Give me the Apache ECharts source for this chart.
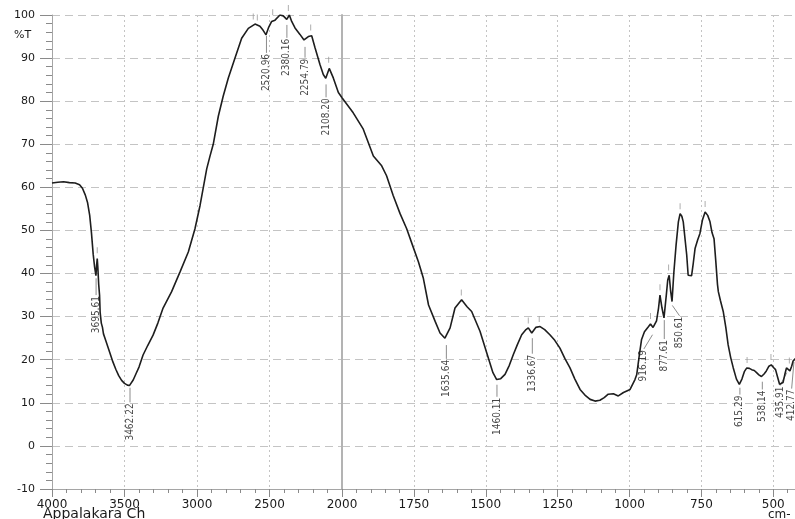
<!DOCTYPE html>
<html><head><meta charset="utf-8">
<script src="https://cdn.jsdelivr.net/npm/echarts@6/dist/echarts.min.js"></script>
<style>html,body{margin:0;padding:0;background:#fff}#c{width:795px;height:519px}</style>
</head><body><div id="c"></div>
<script>
// ---- spectrum data (wavenumber cm-1, %T) ----
const wavenumber = [4000,3960,3920,3880,3840,3810,3790,3770,3755,3740,3728,3716,3706,3697,3692,3688,3684,3678,3672,3668,3660,3652,3645,3630,3615,3600,3580,3560,3540,3520,3500,3480,3466,3455,3440,3420,3400,3372,3340,3303,3270,3234,3175,3117,3060,3014,2979,2933,2910,2888,2853,2819,2784,2738,2692,2646,2600,2566,2545,2524,2505,2485,2462,2428,2405,2381,2363,2347,2324,2290,2262,2232,2209,2186,2152,2129,2112,2088,2060,2025,2000,
1961,1926,1891,1862,1845,1822,1798,1775,1757,1734,1717,1699,1676,1659,1642,1624,1607,1584,1565,1549,1520,1491,1475,1462,1448,1433,1418,1404,1390,1375,1360,1352,1340,1326,1311,1295,1277,1260,1242,1225,1207,1190,1172,1155,1137,1120,1103,1088,1074,1056,1039,1021,998,981,975,965,958,948,935,927,918,906,899,894,887,880,872,867,862,857,852,846,838,830,824,818,813,806,801,796,790,784,778,772,763,755,746,737,728,720,713,706,700,694,691,684,674,665,657,648,639,628,618,609,600,592,583,575,566,558,550,541,532,524,515,507,499,492,485,478,472,466,460,454,448,442,436,431,424,415,405];
const transmittance = [61.0,61.2,61.3,61.1,61.0,60.6,59.8,58.2,56.5,53.5,49.5,44.5,41.5,39.5,42.0,43.5,41.5,37.5,35.0,31.0,28.5,27.5,26.0,24.5,23.0,21.5,19.5,17.8,16.3,15.2,14.5,14.1,14.0,14.3,15.3,16.8,18.3,21.1,23.3,25.7,28.5,32.0,35.8,40.4,45.0,50.4,55.8,64.3,67.3,70.0,76.5,81.2,85.4,90.0,94.6,96.9,97.9,97.4,96.5,95.4,97.2,98.5,98.8,100.0,99.8,99.0,100.0,98.5,97.0,95.5,94.2,95.0,95.2,92.4,88.5,86.2,85.3,87.6,85.4,82.0,80.8,
77.3,73.5,67.3,65.0,62.7,58.1,53.9,50.4,47.0,42.7,38.9,32.7,28.9,26.2,25.0,27.4,32.0,33.9,32.3,31.2,26.6,20.4,17.0,15.4,15.6,16.6,18.7,21.2,23.5,25.8,27.0,27.4,26.2,27.5,27.7,27.0,25.8,24.5,22.7,20.3,18.1,15.5,13.1,11.8,10.8,10.4,10.6,11.2,12.0,12.1,11.6,12.4,13.1,15.4,16.5,21.5,24.7,26.5,27.6,28.3,27.5,29.0,32.0,35.0,32.0,29.7,35.0,38.5,39.6,36.0,33.5,40.0,46.6,52.0,53.9,53.3,52.0,47.5,44.3,39.6,39.3,39.5,42.5,45.8,47.8,49.3,52.5,54.3,53.5,52.0,49.5,48.1,43.0,37.5,35.8,33.8,31.2,27.5,23.5,20.5,18.1,15.5,14.3,15.5,17.3,18.1,18.0,17.7,17.5,17.0,16.5,16.1,16.7,17.4,18.5,18.8,18.2,17.7,16.0,14.3,14.5,14.7,16.5,18.1,18.0,17.4,18.5,19.7,20.2,20.5,21.0];

// ---- peak annotations ----
const peakLabels   = ['3695.61','3462.22','2520.96','2380.16','2254.79','2108.20','1635.64','1460.11','1336.67','916.19','877.61','850.61','615.29','538.14','435.91','412.77'];
const leaderStartX = [3696,3462,2521,2380,2255,2110,1637,1461,1338,920,879,851,616,538,453,428];
const leaderStartY = [38.9,13.5,95.2,97.7,92.6,83.9,23.4,14.2,25.0,25.8,29.2,32.6,13.5,14.9,17.0,19.5];
const labelX       = [3696,3462,2521,2380,2255,2110,1637,1461,1338,950,879,826,616,538,476,436];
const labelTopY    = [35.0,10.1,91.2,94.7,90.1,80.9,20.2,11.4,21.4,22.5,24.8,30.2,11.9,13.1,14.0,13.3];

// small peak tick marks
const markX = [3688,2612,2584,2478,2370,2216,2092,1585,1352,1314,927,894,864,824,737,591,508,444];
const markY = [43.8,98.0,97.8,99.0,100,95.5,88.0,34.0,27.5,27.8,28.5,35.2,39.8,54.0,54.5,18.3,19.0,18.2];

// axis ticks
const yMin = -10, yMax = 100, yStep = 10;
const leftRange = [2000, 4000], leftStep = 500;
const rightRange = [0, 2000], rightStep = 250;

const pts = wavenumber.map((w, i) => [w, transmittance[i]]);
const leftPts = pts.filter(p => p[0] >= 2000);
const rightPts = pts.filter(p => p[0] <= 2000);

function leaders(sel) {
  const out = [];
  peakLabels.forEach((l, i) => {
    if (!sel(labelX[i])) return;
    out.push([leaderStartX[i], leaderStartY[i]], [labelX[i], labelTopY[i]], null);
  });
  return out;
}
function labels(sel) {
  const out = [];
  peakLabels.forEach((l, i) => {
    if (!sel(labelX[i])) return;
    out.push({ name: l, value: [labelX[i], labelTopY[i]] });
  });
  return out;
}
function marks(sel) {
  return markX.map((x, i) => [x, markY[i]]).filter(p => sel(p[0]));
}
const isL = x => x >= 2000, isR = x => x < 2000;

const gridLineColor = '#c4c4c4';
const axisFont = 'DejaVu Sans';
const labelFont = "'Liberation Sans Narrow','DejaVu Sans Condensed',sans-serif";

function xAxisCfg(gi, range, step, hideMax) {
  return {
    type: 'value', gridIndex: gi, min: range[0], max: range[1], interval: step, inverse: true,
    axisLine: { show: true, onZero: false, lineStyle: { color: '#a5a5a5', width: 1 } },
    axisTick: { show: true, length: 8, lineStyle: { color: '#8a8a8a' } },
    minorTick: { show: true, splitNumber: 5, length: 4, lineStyle: { color: '#8a8a8a' } },
    axisLabel: { fontFamily: axisFont, fontSize: 12, color: '#1a1a1a', margin: 10, showMaxLabel: !hideMax, showMinLabel: true,
      formatter: v => String(v) },
    splitLine: { show: true, lineStyle: { color: gridLineColor, type: [2, 3], width: 1 } }
  };
}
function yAxisCfg(gi, primary) {
  return {
    type: 'value', gridIndex: gi, min: yMin, max: yMax, interval: yStep,
    axisLine: { show: true, onZero: false, lineStyle: primary ? { color: '#a5a5a5', width: 1 } : { color: '#b3b3b3', width: 2 } },
    axisTick: { show: primary, length: 12, lineStyle: { color: '#8a8a8a' } },
    minorTick: { show: primary, splitNumber: 5, length: 6, lineStyle: { color: '#8a8a8a' } },
    axisLabel: { show: primary, fontFamily: axisFont, fontSize: 11, color: '#1a1a1a', margin: 17, formatter: v => String(v) },
    splitLine: { show: true, lineStyle: { color: gridLineColor, type: [8, 5], width: 1 } }
  };
}
function lineSeries(xi, data) {
  return { type: 'line', xAxisIndex: xi, yAxisIndex: xi, data, showSymbol: false, symbol: 'none',
    lineStyle: { color: '#1e1e1e', width: 1.6 }, z: 5, silent: true, clip: true };
}
function leaderSeries(xi, data) {
  return { type: 'line', xAxisIndex: xi, yAxisIndex: xi, data, showSymbol: false, symbol: 'none', connectNulls: false,
    lineStyle: { color: '#8c8c8c', width: 1 }, z: 4, silent: true };
}
function labelSeries(xi, data) {
  return { type: 'scatter', xAxisIndex: xi, yAxisIndex: xi, data, symbolSize: 2, itemStyle: { color: 'rgba(255,255,255,0)' }, z: 6, silent: true,
    labelLayout: { hideOverlap: false },
    label: { show: true, formatter: '{b}', position: 'bottom', distance: 0, rotate: 90, align: 'right', verticalAlign: 'middle',
      fontFamily: labelFont, fontSize: 10, color: '#141414' } };
}
function markSeries(xi, data) {
  return { type: 'scatter', xAxisIndex: xi, yAxisIndex: xi, data, symbol: 'rect', symbolSize: [1, 6], symbolOffset: [0, -7],
    itemStyle: { color: '#9a9a9a' }, z: 4, silent: true };
}

const chart = echarts.init(document.getElementById('c'), null, { renderer: 'canvas' });
chart.setOption({
  animation: false,
  backgroundColor: '#fff',
  grid: [
    { left: 52, top: 15, width: 290, height: 474, outerBoundsMode: 'none', containLabel: false },
    { left: 342, top: 15, width: 575, height: 474, outerBoundsMode: 'none', containLabel: false }
  ],
  xAxis: [xAxisCfg(0, leftRange, leftStep, false), xAxisCfg(1, rightRange, rightStep, true)],
  yAxis: [yAxisCfg(0, true), yAxisCfg(1, false)],
  series: [
    lineSeries(0, leftPts), lineSeries(1, rightPts),
    leaderSeries(0, leaders(isL)), leaderSeries(1, leaders(isR)),
    labelSeries(0, labels(isL)), labelSeries(1, labels(isR)),
    markSeries(0, marks(isL)), markSeries(1, marks(isR))
  ],
  graphic: [
    { type: 'text', left: 14, top: 30, style: { text: '%T', font: '11px DejaVu Sans', fill: '#1a1a1a' } },
    { type: 'text', left: 43, top: 507, style: { text: 'Appalakara Ch', font: '14px DejaVu Sans', fill: '#1a1a1a' } },
    { type: 'text', left: 768, top: 509, style: { text: 'cm-', font: '12px DejaVu Sans', fill: '#1a1a1a' } }
  ]
});
</script></body></html>
